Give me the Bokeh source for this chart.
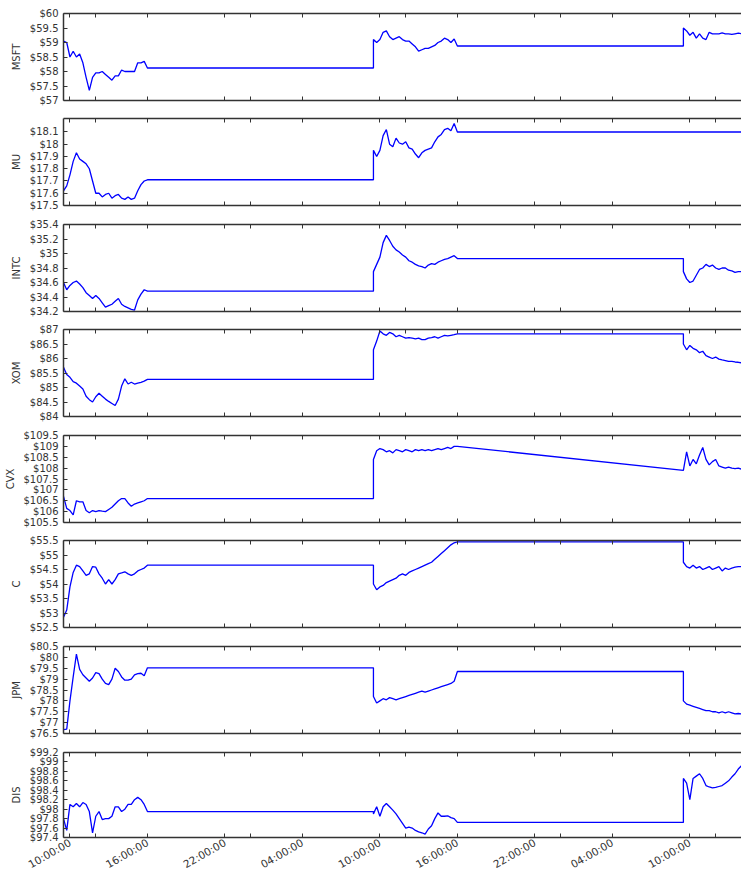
import numpy as np
import pandas as pd
from bokeh.embed import file_html
from bokeh.resources import INLINE
from bokeh.layouts import column
from bokeh.models import (ColumnDataSource, Range1d, FixedTicker, LinearAxis,
                          CustomJSTickFormatter, CustomLabelingPolicy)
from bokeh.plotting import figure

# Three trading sessions, sampled every 15 minutes
SESSION_DAYS = ["2016-11-09", "2016-11-10", "2016-11-11"]
OPEN, CLOSE, LAST = "09:30", "16:00", "14:00"
STEP = "15min"

# ---- prices per session (day 1, day 2, day 3) ----
MSFT_D1 = [59.05, 59.0, 58.5, 58.7, 58.5, 58.6, 58.3, 57.8, 57.35, 57.8, 57.95, 57.95, 58.0, 57.9,
           57.8, 57.7, 57.85, 57.85, 58.05, 58.0, 58.0, 58.0, 58.0, 58.3, 58.3, 58.35, 58.12]
MSFT_D2 = [59.1, 59.0, 59.1, 59.35, 59.4, 59.2, 59.1, 59.15, 59.2, 59.1, 59.05, 59.05, 58.95, 58.85,
           58.7, 58.75, 58.8, 58.8, 58.85, 58.9, 59.0, 59.05, 59.15, 59.1, 59.0, 59.12, 58.88]
MSFT_D3 = [59.5, 59.4, 59.25, 59.35, 59.15, 59.3, 59.15, 59.1, 59.35, 59.3, 59.3, 59.3, 59.33,
           59.3, 59.3, 59.28, 59.3, 59.32, 59.3]

MU_D1 = [17.62, 17.66, 17.75, 17.86, 17.93, 17.88, 17.86, 17.84, 17.8, 17.7, 17.6, 17.6, 17.57, 17.59,
         17.6, 17.56, 17.58, 17.59, 17.56, 17.55, 17.57, 17.55, 17.56, 17.62, 17.67, 17.7, 17.71]
MU_D2 = [17.95, 17.9, 17.95, 18.07, 18.12, 18.0, 17.98, 18.05, 18.01, 18.0, 18.02, 17.97, 17.96, 17.92,
         17.89, 17.93, 17.95, 17.96, 17.97, 18.02, 18.06, 18.08, 18.12, 18.13, 18.11, 18.17, 18.1]
MU_D3 = []

INTC_D1 = [34.6, 34.5, 34.56, 34.6, 34.62, 34.58, 34.53, 34.46, 34.42, 34.38, 34.42, 34.38, 34.32, 34.26,
           34.28, 34.3, 34.34, 34.38, 34.3, 34.27, 34.25, 34.23, 34.22, 34.36, 34.44, 34.5, 34.48]
INTC_D2 = [34.75, 34.85, 34.95, 35.15, 35.25, 35.18, 35.1, 35.05, 35.02, 34.98, 34.95, 34.9, 34.88, 34.85,
           34.83, 34.82, 34.8, 34.84, 34.86, 34.85, 34.88, 34.9, 34.92, 34.93, 34.95, 34.97, 34.93]
INTC_D3 = [34.75, 34.65, 34.6, 34.62, 34.7, 34.78, 34.8, 34.85, 34.82, 34.84, 34.8, 34.78, 34.8,
           34.8, 34.77, 34.76, 34.74, 34.75, 34.75]

XOM_D1 = [85.7, 85.45, 85.35, 85.2, 85.15, 85.05, 84.95, 84.7, 84.58, 84.5, 84.68, 84.8, 84.7, 84.6,
          84.52, 84.45, 84.38, 84.6, 85.05, 85.3, 85.12, 85.18, 85.12, 85.15, 85.18, 85.22, 85.28]
XOM_D2 = [86.3, 86.6, 86.95, 86.85, 86.8, 86.9, 86.85, 86.75, 86.8, 86.75, 86.7, 86.72, 86.7, 86.68,
          86.7, 86.65, 86.65, 86.7, 86.72, 86.75, 86.7, 86.75, 86.8, 86.78, 86.8, 86.82, 86.85]
XOM_D3 = [86.5, 86.3, 86.45, 86.35, 86.3, 86.2, 86.25, 86.1, 86.05, 86.0, 86.05, 85.98, 85.95,
          85.93, 85.9, 85.9, 85.88, 85.87, 85.85]

CVX_D1 = [106.7, 106.15, 106.05, 105.85, 106.5, 106.45, 106.45, 106.05, 105.95, 106.05, 106.0, 106.05,
          106.02, 106.0, 106.1, 106.2, 106.35, 106.5, 106.6, 106.6, 106.4, 106.25, 106.35, 106.4,
          106.45, 106.5, 106.6]
CVX_D2 = [108.4, 108.8, 108.9, 108.85, 108.75, 108.8, 108.7, 108.85, 108.8, 108.75, 108.85, 108.8,
          108.75, 108.85, 108.8, 108.85, 108.8, 108.85, 108.8, 108.85, 108.9, 108.85, 108.9, 108.95,
          108.9, 109.0, 109.0]
CVX_D3 = [107.9, 108.75, 108.1, 108.4, 108.2, 108.6, 108.95, 108.4, 108.15, 108.3, 108.4, 108.1,
          108.05, 108.0, 108.05, 108.0, 107.98, 108.0, 107.95]

C_D1 = [52.85, 53.1, 53.9, 54.4, 54.65, 54.6, 54.45, 54.3, 54.35, 54.6, 54.58, 54.35, 54.2, 54.0,
        54.15, 54.0, 54.15, 54.35, 54.38, 54.42, 54.35, 54.3, 54.35, 54.45, 54.5, 54.55, 54.65]
C_D2 = [54.0, 53.8, 53.9, 53.95, 54.05, 54.1, 54.15, 54.2, 54.3, 54.35, 54.3, 54.4, 54.45, 54.5,
        54.55, 54.6, 54.65, 54.7, 54.75, 54.85, 54.95, 55.05, 55.15, 55.25, 55.35, 55.42, 55.45]
C_D3 = [54.75, 54.6, 54.55, 54.65, 54.55, 54.6, 54.5, 54.55, 54.6, 54.5, 54.55, 54.6, 54.45,
        54.55, 54.5, 54.55, 54.58, 54.6, 54.6]

JPM_D1 = [76.68, 76.7, 78.0, 79.1, 80.15, 79.45, 79.2, 79.05, 78.9, 79.05, 79.3, 79.25, 79.0, 78.8,
          78.75, 79.0, 79.5, 79.35, 79.1, 78.95, 78.95, 79.0, 79.2, 79.25, 79.27, 79.15, 79.52]
JPM_D2 = [78.2, 77.9, 78.0, 78.1, 78.05, 78.15, 78.1, 78.05, 78.1, 78.15, 78.2, 78.25, 78.3, 78.35,
          78.4, 78.45, 78.4, 78.45, 78.5, 78.55, 78.6, 78.65, 78.7, 78.75, 78.8, 78.9, 79.35]
JPM_D3 = [78.0, 77.85, 77.8, 77.75, 77.7, 77.65, 77.6, 77.55, 77.55, 77.5, 77.5, 77.45, 77.5,
          77.45, 77.5, 77.45, 77.4, 77.42, 77.4]

DIS_D1 = [97.8, 97.55, 98.1, 98.05, 98.12, 98.05, 98.14, 98.1, 97.95, 97.5, 97.85, 97.95, 97.78, 97.8,
          97.8, 97.85, 98.05, 98.05, 97.95, 98.0, 98.1, 98.1, 98.2, 98.25, 98.2, 98.1, 97.95]
DIS_D2 = [97.9, 98.05, 97.85, 98.05, 98.12, 98.05, 97.98, 97.9, 97.8, 97.7, 97.6, 97.62, 97.6, 97.55,
          97.52, 97.5, 97.47, 97.58, 97.65, 97.8, 97.92, 97.85, 97.85, 97.86, 97.82, 97.8, 97.72]
DIS_D3 = [98.65, 98.55, 98.2, 98.65, 98.7, 98.75, 98.65, 98.5, 98.47, 98.45, 98.46, 98.48, 98.5,
          98.55, 98.6, 98.68, 98.75, 98.85, 98.92]

# ---- axis limits and tick values ----
MSFT_Y, MSFT_TICKS = (57.0, 60.0), [57, 57.5, 58, 58.5, 59, 59.5, 60]
MU_Y, MU_TICKS = (17.5, 18.21), [17.5, 17.6, 17.7, 17.8, 17.9, 18.0, 18.1]
INTC_Y, INTC_TICKS = (34.2, 35.4), [34.2, 34.4, 34.6, 34.8, 35.0, 35.2, 35.4]
XOM_Y, XOM_TICKS = (84.0, 87.0), [84, 84.5, 85, 85.5, 86, 86.5, 87]
CVX_Y, CVX_TICKS = (105.5, 109.5), [105.5, 106, 106.5, 107, 107.5, 108, 108.5, 109, 109.5]
C_Y, C_TICKS = (52.5, 55.5), [52.5, 53, 53.5, 54, 54.5, 55, 55.5]
JPM_Y, JPM_TICKS = (76.5, 80.5), [76.5, 77, 77.5, 78, 78.5, 79, 79.5, 80, 80.5]
DIS_Y, DIS_TICKS = (97.4, 99.2), [97.4, 97.6, 97.8, 98.0, 98.2, 98.4, 98.6, 98.8, 99.0, 99.2]

# whether the last price is held flat across each overnight gap
HOLDS = {"CVX": (True, False)}

PANELS = [
    ("MSFT", MSFT_D1, MSFT_D2, MSFT_D3, MSFT_Y, MSFT_TICKS),
    ("MU", MU_D1, MU_D2, MU_D3, MU_Y, MU_TICKS),
    ("INTC", INTC_D1, INTC_D2, INTC_D3, INTC_Y, INTC_TICKS),
    ("XOM", XOM_D1, XOM_D2, XOM_D3, XOM_Y, XOM_TICKS),
    ("CVX", CVX_D1, CVX_D2, CVX_D3, CVX_Y, CVX_TICKS),
    ("C", C_D1, C_D2, C_D3, C_Y, C_TICKS),
    ("JPM", JPM_D1, JPM_D2, JPM_D3, JPM_Y, JPM_TICKS),
    ("DIS", DIS_D1, DIS_D2, DIS_D3, DIS_Y, DIS_TICKS),
]


def ms(idx):
    return (pd.DatetimeIndex(idx).astype("int64") // 10**6).astype(float).tolist()


def session(day, end):
    return pd.date_range(f"{day} {OPEN}", f"{day} {end}", freq=STEP)


T1 = session(SESSION_DAYS[0], CLOSE)
T2 = session(SESSION_DAYS[1], CLOSE)
T3 = session(SESSION_DAYS[2], LAST)
X_START = pd.Timestamp(f"{SESSION_DAYS[0]} {OPEN}")
X_END = pd.Timestamp(f"{SESSION_DAYS[2]} {LAST}")


def build(name, d1, d2, d3):
    hold = HOLDS.get(name, (True, True))
    xs, ys = list(T1), list(d1)
    if hold[0]:
        xs.append(T2[0]); ys.append(d1[-1])
    xs += list(T2); ys += list(d2)
    if d3:
        if hold[1]:
            xs.append(T3[0]); ys.append(d2[-1])
        xs += list(T3); ys += list(d3)
    else:
        xs.append(X_END); ys.append(d2[-1])
    return ms(xs), ys


MAJOR = ms(pd.date_range(f"{SESSION_DAYS[0]} 10:00", X_END, freq="6h"))
MINOR = ms(pd.date_range(f"{SESSION_DAYS[0]} 12:00", X_END, freq="12h"))

price_fmt = CustomJSTickFormatter(code="return '$' + String(+tick.toFixed(2));")
time_fmt = CustomJSTickFormatter(code="""
const d = new Date(tick);
const p = (n) => String(n).padStart(2, '0');
return p(d.getUTCHours()) + ':' + p(d.getUTCMinutes()) + ':' + p(d.getUTCSeconds());
""")

FONT = "DejaVu Sans"
INK = "#333333"
x_range = Range1d(start=ms([X_START])[0], end=ms([X_END])[0])

# frame placement: 87 px tall panels on a ~105.6 px pitch
TOPS = [13, 9, 10, 9, 10, 9, 10, 10]
BOTTOMS = [9, 9, 9, 9, 9, 9, 9, 39]
FRAME_H = 87


def style_time_axis(ax, labels):
    ax.axis_line_color = INK
    ax.axis_line_width = 1.5
    ax.major_tick_in = 4
    ax.major_tick_out = 0
    ax.minor_tick_in = 4
    ax.minor_tick_out = 0
    ax.major_tick_line_color = INK
    ax.minor_tick_line_color = INK
    if labels:
        ax.major_label_text_font = FONT
        ax.major_label_text_font_size = "10.5px"
        ax.major_label_text_color = INK
        ax.major_label_orientation = np.pi / 6
        ax.major_label_standoff = 4
    else:
        # tick marks only: no label is kept
        ax.major_label_policy = CustomLabelingPolicy(code="return new Set();")
        ax.major_label_text_font_size = "0px"
        ax.major_label_standoff = 0


figs = []
n = len(PANELS)
for i, (name, d1, d2, d3, yr, yticks) in enumerate(PANELS):
    xs, ys = build(name, d1, d2, d3)
    p = figure(width=741, height=TOPS[i] + FRAME_H + BOTTOMS[i],
               x_range=x_range, y_range=Range1d(*yr),
               x_axis_type=None, y_axis_type=None,
               toolbar_location=None, output_backend="svg",
               min_border_left=63, min_border_right=0,
               min_border_top=TOPS[i], min_border_bottom=BOTTOMS[i])
    p.outline_line_color = None
    p.background_fill_color = "white"
    p.border_fill_color = "white"

    ya = LinearAxis(ticker=FixedTicker(ticks=yticks), formatter=price_fmt, axis_label=name)
    ya.axis_line_color = INK
    ya.axis_line_width = 1.5
    ya.major_tick_in = 4
    ya.major_tick_out = 0
    ya.minor_tick_line_color = None
    ya.major_tick_line_color = INK
    ya.major_label_text_font = FONT
    ya.major_label_text_font_size = "10px"
    ya.major_label_text_color = INK
    ya.major_label_standoff = 5
    ya.axis_label_text_font = FONT
    ya.axis_label_text_font_size = "10px"
    ya.axis_label_text_font_style = "normal"
    ya.axis_label_text_color = INK
    ya.axis_label_standoff = 5
    p.add_layout(ya, "left")

    xb = LinearAxis(ticker=FixedTicker(ticks=MAJOR, minor_ticks=MINOR), formatter=time_fmt)
    style_time_axis(xb, i == n - 1)
    p.add_layout(xb, "below")

    xt = LinearAxis(ticker=FixedTicker(ticks=MAJOR, minor_ticks=MINOR), formatter=time_fmt)
    style_time_axis(xt, False)
    p.add_layout(xt, "above")

    src = ColumnDataSource(data=dict(x=xs, y=ys))
    p.line(x="x", y="y", source=src, line_color="#0000ff", line_width=1.3)
    figs.append(p)

layout = column(*figs, spacing=0)
open("out.html", "w").write(file_html(layout, INLINE))
